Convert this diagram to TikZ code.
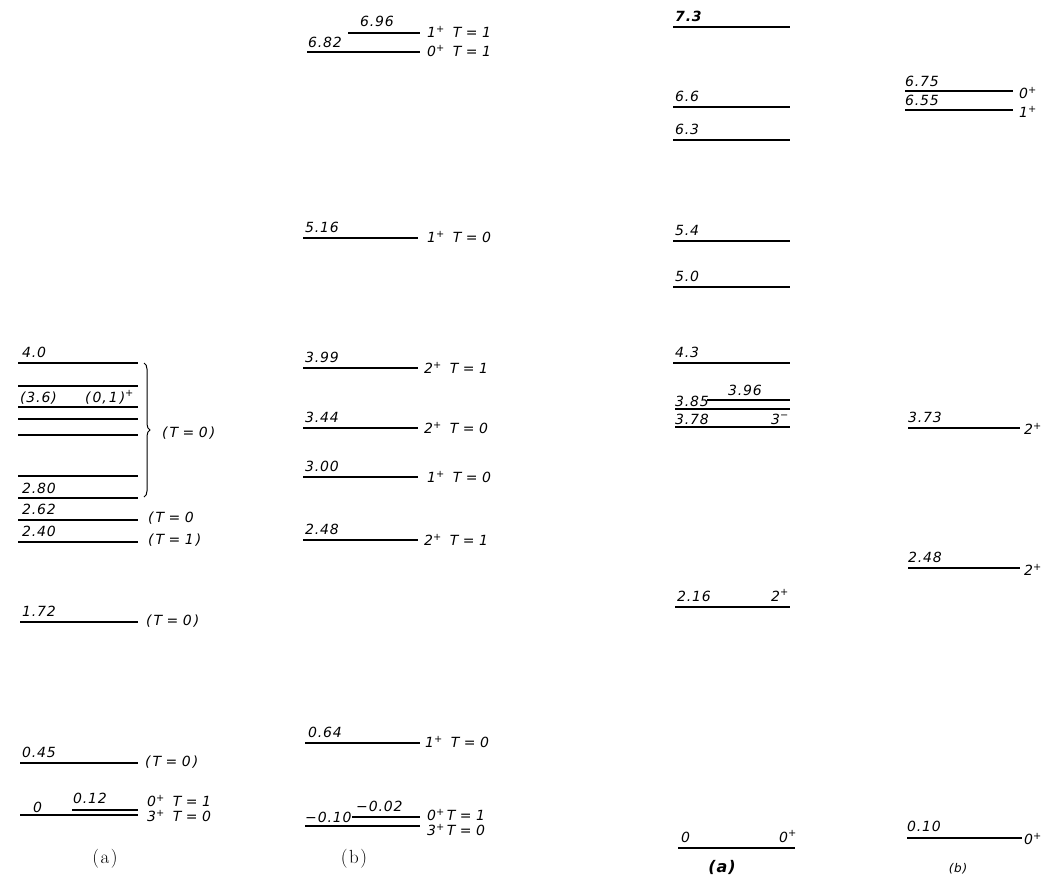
\documentclass[tikz,border=0pt]{standalone}
\usepackage{fontspec}
\newfontfamily\lab[LetterSpace=6]{DejaVu Sans}
\usetikzlibrary{decorations.pathreplacing}
\tikzset{
  lvl/.style={line width=1.5pt},
  lbl/.style={font=\lab\itshape\fontsize{14}{16}\selectfont, inner sep=0pt},
  lblb/.style={font=\lab\bfseries\itshape\fontsize{14}{16}\selectfont, inner sep=0pt},
  figcap/.style={font=\fontsize{19}{21}\selectfont, inner sep=0pt},
}
\newcommand\Sp[1]{\textsuperscript{#1}}
\newcommand\Eq{\hspace{4.5pt}=\hspace{4.5pt}}
\newcommand\Gp{\hspace{8pt}}
\newcommand\Pl{\hspace{2pt}}
\begin{document}
\begin{tikzpicture}[x=1pt,y=-1pt]
\useasboundingbox (0,0) rectangle (1052,878);
% ---------- column (a), left ----------
\draw[lvl] (18,363) -- (138,363);
\node[lbl,anchor=base west] (a40) at (22,357) {4.0};
\draw[lvl] (18,386) -- (138,386);
\draw[lvl] (18,407) -- (138,407);
\node[lbl,anchor=base west] (a36) at (20,402) {(3.6)};
\node[lbl,anchor=base west] (a01) at (85,402) {(\Pl0,\Pl1\Pl)\Sp{+}};
\draw[lvl] (18,419) -- (138,419);
\draw[lvl] (18,435) -- (138,435);
\draw[lvl] (18,476) -- (138,476);
\draw[lvl] (18,498) -- (138,498);
\node[lbl,anchor=base west] (a280) at (22,493) {2.80};
\draw[lvl] (18,520) -- (138,520);
\node[lbl,anchor=base west] (a262) at (22,514) {2.62};
\draw[lvl] (18,542) -- (138,542);
\node[lbl,anchor=base west] (a240) at (22,536) {2.40};
\draw[decorate, decoration={brace,amplitude=6pt}, line width=1pt]
  (144,363) -- (144,497);
\node[lbl,anchor=west] (aT0a) at (162,433) {(\Pl T\Eq 0\Pl)};
\node[lbl,anchor=west] (aT0b) at (148,518) {(\Pl T\Eq 0};
\node[lbl,anchor=west] (aT1) at (148,540) {(\Pl T\Eq 1\Pl)};
\draw[lvl] (20,622) -- (138,622);
\node[lbl,anchor=base west] (a172) at (22,616) {1.72};
\node[lbl,anchor=west] (aT0c) at (146,621) {(\Pl T\Eq 0\Pl)};
\draw[lvl] (20,763) -- (138,763);
\node[lbl,anchor=base west] (a045) at (22,757) {0.45};
\node[lbl,anchor=west] (aT0d) at (145,762) {(\Pl T\Eq 0\Pl)};
\draw[lvl] (72,810) -- (138,810);
\node[lbl,anchor=base west] (a012) at (73,803) {0.12};
\draw[lvl] (20,815) -- (138,815);
\node[lbl,anchor=base west] (a0) at (33,812) {0};
\node[lbl,anchor=west] (aJ1) at (147,801) {0\Sp{+}\Gp T\Eq 1};
\node[lbl,anchor=west] (aJ2) at (147,816) {3\Sp{+}\Gp T\Eq 0};
\node[figcap] (capa) at (105,859) {(\kern1.5pt a\kern1.5pt)};
% ---------- column (b), left ----------
\draw[lvl] (348,33) -- (420,33);
\node[lbl,anchor=base west] (b696) at (360,27) {6.96};
\draw[lvl] (307,52) -- (420,52);
\node[lbl,anchor=base west] (b682) at (308,47) {6.82};
\node[lbl,anchor=west] (bJ696) at (427,32) {1\Sp{+}\Gp T\Eq 1};
\node[lbl,anchor=west] (bJ682) at (427,51) {0\Sp{+}\Gp T\Eq 1};
\draw[lvl] (303,238) -- (418,238);
\node[lbl,anchor=base west] (b516) at (305,232) {5.16};
\node[lbl,anchor=west] (bJ516) at (427,237) {1\Sp{+}\Gp T\Eq 0};
\draw[lvl] (303,368) -- (418,368);
\node[lbl,anchor=base west] (b399) at (305,362) {3.99};
\node[lbl,anchor=west] (bJ399) at (424,368) {2\Sp{+}\Gp T\Eq 1};
\draw[lvl] (303,428) -- (418,428);
\node[lbl,anchor=base west] (b344) at (305,422) {3.44};
\node[lbl,anchor=west] (bJ344) at (424,428) {2\Sp{+}\Gp T\Eq 0};
\draw[lvl] (303,477) -- (418,477);
\node[lbl,anchor=base west] (b300) at (305,471) {3.00};
\node[lbl,anchor=west] (bJ300) at (427,477) {1\Sp{+}\Gp T\Eq 0};
\draw[lvl] (303,540) -- (418,540);
\node[lbl,anchor=base west] (b248) at (305,534) {2.48};
\node[lbl,anchor=west] (bJ248) at (424,540) {2\Sp{+}\Gp T\Eq 1};
\draw[lvl] (305,743) -- (420,743);
\node[lbl,anchor=base west] (b064) at (308,737) {0.64};
\node[lbl,anchor=west] (bJ064) at (425,742) {1\Sp{+}\Gp T\Eq 0};
\draw[lvl] (352,817) -- (420,817);
\node[lbl,anchor=base west] (b002) at (356,811) {−0.02};
\draw[lvl] (305,826) -- (420,826);
\node[lbl,anchor=base west] (b010) at (305,822) {−0.10};
\node[lbl,anchor=west] (bJ002) at (427,815) {0\Sp{+}\Pl T\Eq 1};
\node[lbl,anchor=west] (bJ010) at (427,830) {3\Sp{+}\Pl T\Eq 0};
\node[figcap] (capb) at (354,859) {(\kern1.5pt b\kern1.5pt)};
% ---------- column (a), right ----------
\draw[lvl] (673,27) -- (790,27);
\node[lblb,anchor=base west] (c73) at (675,21) {7.3};
\draw[lvl] (673,107) -- (790,107);
\node[lbl,anchor=base west] (c66) at (675,101) {6.6};
\draw[lvl] (673,140) -- (790,140);
\node[lbl,anchor=base west] (c63) at (675,134) {6.3};
\draw[lvl] (673,241) -- (790,241);
\node[lbl,anchor=base west] (c54) at (675,235) {5.4};
\draw[lvl] (673,287) -- (790,287);
\node[lbl,anchor=base west] (c50) at (675,281) {5.0};
\draw[lvl] (673,363) -- (790,363);
\node[lbl,anchor=base west] (c43) at (675,357) {4.3};
\draw[lvl] (707,400) -- (790,400);
\node[lbl,anchor=base west] (c396) at (728,395) {3.96};
\draw[lvl] (675,409) -- (790,409);
\node[lbl,anchor=base west] (c385) at (675,406) {3.85};
\draw[lvl] (675,427) -- (790,427);
\node[lbl,anchor=base west] (c378) at (675,424) {3.78};
\node[lbl,anchor=base east] (cJ378) at (789,424) {3\Sp{−}};
\draw[lvl] (675,607) -- (790,607);
\node[lbl,anchor=base west] (c216) at (677,601) {2.16};
\node[lbl,anchor=base east] (cJ216) at (789,601) {2\Sp{+}};
\draw[lvl] (678,848) -- (795,848);
\node[lbl,anchor=base west] (c0) at (681,842) {0};
\node[lbl,anchor=base east] (cJ0) at (797,842) {0\Sp{+}};
\node[lblb,font=\lab\bfseries\itshape\fontsize{16}{18}\selectfont] (capc) at (722,867) {(a)};
% ---------- column (b), right ----------
\draw[lvl] (905,91) -- (1013,91);
\node[lbl,anchor=base west] (d675) at (905,86) {6.75};
\node[lbl,anchor=west] (dJ675) at (1019,93) {0\Sp{+}};
\draw[lvl] (905,110) -- (1013,110);
\node[lbl,anchor=base west] (d655) at (905,105) {6.55};
\node[lbl,anchor=west] (dJ655) at (1019,112) {1\Sp{+}};
\draw[lvl] (908,428) -- (1020,428);
\node[lbl,anchor=base west] (d373) at (908,422) {3.73};
\node[lbl,anchor=west] (dJ373) at (1024,429) {2\Sp{+}};
\draw[lvl] (908,568) -- (1020,568);
\node[lbl,anchor=base west] (d248) at (908,562) {2.48};
\node[lbl,anchor=west] (dJ248) at (1024,570) {2\Sp{+}};
\draw[lvl] (907,838) -- (1022,838);
\node[lbl,anchor=base west] (d010) at (907,831) {0.10};
\node[lbl,anchor=west] (dJ010) at (1024,839) {0\Sp{+}};
\node[lbl,font=\lab\itshape\fontsize{12}{14}\selectfont] (capd) at (958,869) {(b)};
\end{tikzpicture}
\end{document}
